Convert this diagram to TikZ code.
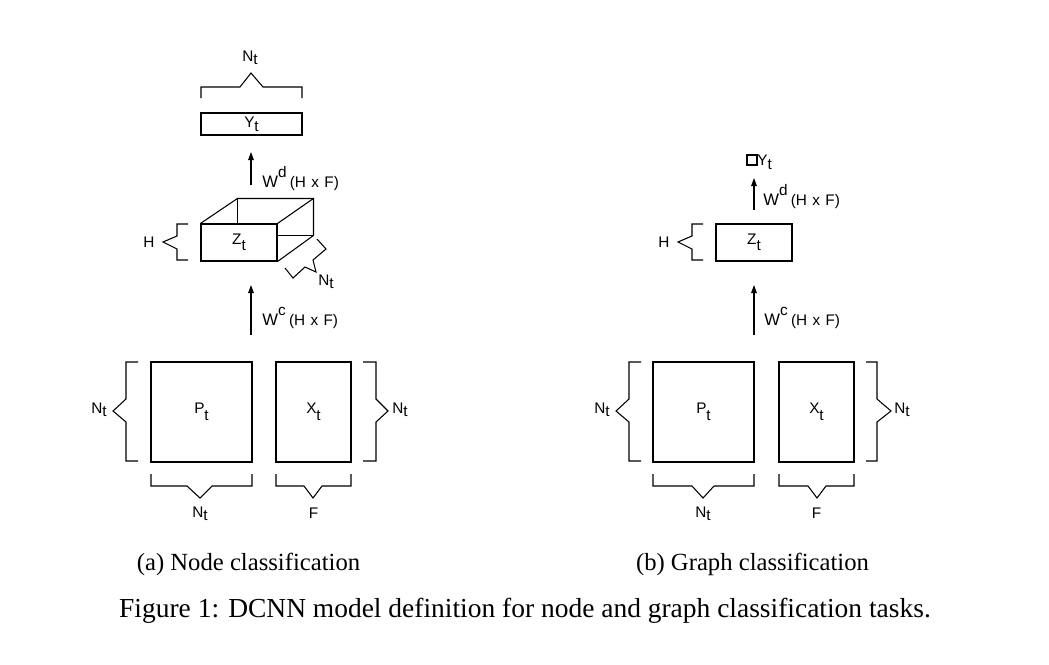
\documentclass[tikz,border=0pt]{standalone}
\usepackage{fontspec}
\setmainfont{Liberation Serif}
\newfontfamily\lab{Liberation Sans}
\usetikzlibrary{arrows.meta}
\newcommand\dsub[3][2.5pt]{#2\raisebox{-#1}{#3}}
\newcommand\wlab[2]{{\fontsize{12.5}{14}\selectfont W}\raisebox{7pt}{\fontsize{11.5}{13}\selectfont #1}\hspace{2.5pt}{\fontsize{11.5}{13}\selectfont (H\hspace{0.35em}x\hspace{0.35em}F)}}
\tikzset{
  ln/.style={line width=0.8pt, line join=miter},
  bx/.style 2 args={draw, line width=0.8pt, inner sep=0pt, minimum width=#1*0.75pt, minimum height=#2*0.75pt, font=\lab\fontsize{11.5}{13}\selectfont},
  lbl/.style={inner sep=0pt, font=\lab\fontsize{11.5}{13}\selectfont},
  arr/.style={line width=0.8pt, -{Triangle[length=6pt,width=4.2pt]}},
  captxt/.style={inner sep=0pt, anchor=base, font=\fontsize{18.5}{22}\selectfont},
  figtxt/.style={inner sep=0pt, anchor=base, font=\fontsize{20.6}{24}\selectfont}
}
\begin{document}
\begin{tikzpicture}[x=0.75pt, y=-0.75pt]
\useasboundingbox (0,0) rectangle (1049,664);

% ===== Left panel (a) =====
\node[bx={101}{22}] (ya) at (251.5,124) {\dsub[3.3pt]{Y}{t}};
\draw[ln] (201,98) -- (201,87) -- (240,87) -- (251,73) -- (263,87) -- (302,87) -- (302,98);
\node[lbl] (nya) at (250,58) {\dsub{N}{t}};
\coordinate (wda0) at (251,185);
\coordinate (wda1) at (251,152);
\draw[arr] (wda0) -- (wda1);
\node[inner sep=0pt, anchor=base west, font=\lab] (wdal) at (262,187) {\wlab{d}{}};
\node[bx={76}{37}] (za) at (239,242.5) {\dsub[4.5pt]{Z}{t}};
\draw[ln] (za.north west) -- ++(37,-25) coordinate (btl) -- ++(76,0) coordinate (btr) -- ++(0,37) coordinate (bbr) -- (za.south east);
\draw[ln] (za.north east) -- (btr);
\draw[ln] (btl) -- (btl |- za.north);
\draw[ln] (bbr) -- (bbr -| za.east);
\draw[ln] (188,224) -- (177,224) -- (177,236) -- (163,242) -- (177,249) -- (177,260) -- (188,260);
\node[lbl] (ha) at (149,242) {H};
\draw[ln] (285,268) -- (293,278) -- (305,267) -- (316,272) -- (313,260) -- (326,249) -- (317,239);
\node[lbl] (nza) at (326,282) {\dsub{N}{t}};
\coordinate (wca0) at (251,335);
\coordinate (wca1) at (251,285);
\draw[arr] (wca0) -- (wca1);
\node[inner sep=0pt, anchor=base west, font=\lab] (wcal) at (262,325) {\wlab{c}{}};
\node[bx={101}{100}] (pa) at (201.5,412) {\dsub[5.5pt]{P}{t}};
\node[bx={75}{100}] (xa) at (313.5,412) {\dsub[5.5pt]{X}{t}};
\draw[ln] (138,362) -- (126,362) -- (126,399) -- (113,411) -- (126,422) -- (126,461) -- (138,461);
\node[lbl] (npla) at (99,410) {\dsub{N}{t}};
\draw[ln] (363,362) -- (376,362) -- (376,399) -- (388,411) -- (376,422) -- (376,461) -- (363,461);
\node[lbl] (npra) at (400,410) {\dsub{N}{t}};
\draw[ln] (151,474) -- (151,486) -- (187,486) -- (200,498) -- (212,486) -- (252,486) -- (252,474);
\node[lbl, anchor=base] (npba) at (200,517) {\dsub{N}{t}};
\draw[ln] (276,474) -- (276,486) -- (304,486) -- (313,498) -- (322,486) -- (351,486) -- (351,474);
\node[lbl, anchor=base] (fa) at (313.5,518) {F};
\node[captxt] (capa) at (248.5,570) {(a) Node classification};

% ===== Right panel (b) =====
\node[bx={10}{10}] (yb) at (752,160) {};
\node[lbl, anchor=base west] (ybl) at (757,165) {\dsub[3.3pt]{Y}{t}};
\coordinate (wdb0) at (754,210);
\coordinate (wdb1) at (754,178);
\draw[arr] (wdb0) -- (wdb1);
\node[inner sep=0pt, anchor=base west, font=\lab] (wdbl) at (763,205) {\wlab{d}{}};
\node[bx={76}{37}] (zb) at (754,242.5) {\dsub[4.5pt]{Z}{t}};
\draw[ln] (703,224) -- (692,224) -- (692,236) -- (678,242) -- (692,249) -- (692,260) -- (703,260);
\node[lbl] (hb) at (664,242) {H};
\coordinate (wcb0) at (754,335);
\coordinate (wcb1) at (754,285);
\draw[arr] (wcb0) -- (wcb1);
\node[inner sep=0pt, anchor=base west, font=\lab] (wcbl) at (764,325) {\wlab{c}{}};
\node[bx={101}{100}] (pb) at (703.5,412) {\dsub[5.5pt]{P}{t}};
\node[bx={75}{100}] (xb) at (816.5,412) {\dsub[5.5pt]{X}{t}};
\draw[ln] (641,362) -- (629,362) -- (629,399) -- (616,411) -- (629,422) -- (629,461) -- (641,461);
\node[lbl] (nplb) at (602,410) {\dsub{N}{t}};
\draw[ln] (866,362) -- (877,362) -- (877,399) -- (891,411) -- (877,422) -- (877,461) -- (866,461);
\node[lbl] (nprb) at (902,410) {\dsub{N}{t}};
\draw[ln] (653,474) -- (653,486) -- (692,486) -- (703,498) -- (714,486) -- (754,486) -- (754,474);
\node[lbl, anchor=base] (npbb) at (703,517) {\dsub{N}{t}};
\draw[ln] (779,474) -- (779,486) -- (808,486) -- (817,498) -- (826,486) -- (854,486) -- (854,474);
\node[lbl, anchor=base] (fb) at (816.5,518) {F};
\node[captxt] (capb) at (752.5,570) {(b) Graph classification};

% ===== Figure caption =====
\node[figtxt] (figcap) at (525,617) {Figure 1: DCNN model definition for node and graph classification tasks.};
\end{tikzpicture}
\end{document}
